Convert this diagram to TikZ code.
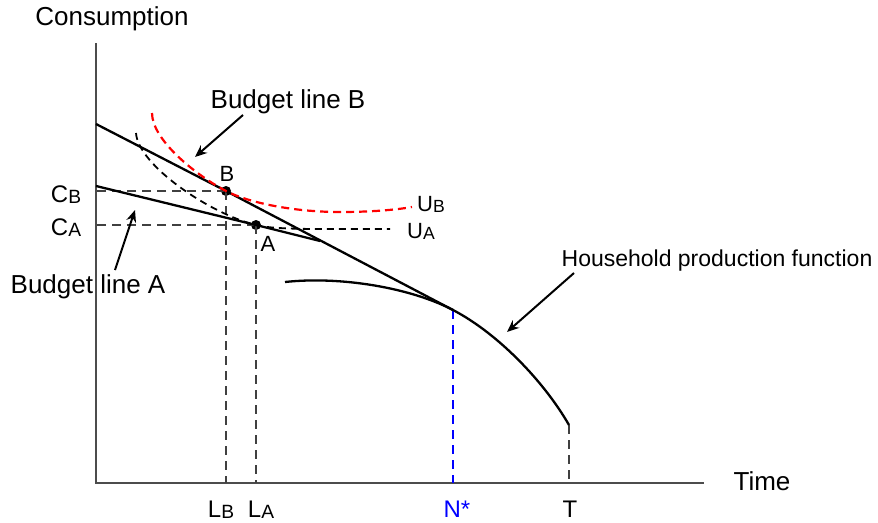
\documentclass[tikz,border=0pt]{standalone}
\usepackage{fontspec}
\setmainfont{Liberation Sans}
\usetikzlibrary{arrows.meta}
\newcommand{\subl}[2]{#1\raisebox{-0.1ex}{\fontsize{0.8em}{1em}\selectfont #2}}
\begin{document}
\begin{tikzpicture}[
    x=1pt, y=-1pt,
    hhAxis/.style={draw=black!70, line width=1.8pt},
    hhBudget/.style={line width=2.3pt},
    hhGuide/.style={black!75, line width=1.5pt, dash pattern=on 9pt off 6pt},
    hhIndiffA/.style={line width=1.8pt, dash pattern=on 7pt off 5pt},
    hhIndiffB/.style={red, line width=2.2pt, dash pattern=on 8pt off 5pt},
    hhPointer/.style={line width=2pt, -{Stealth[length=12pt,width=10pt]}},
    hhBig/.style={inner sep=0pt, anchor=base, font=\fontsize{26}{28}\selectfont},
    hhAxLbl/.style={inner sep=0pt, anchor=base, font=\fontsize{24}{26}\selectfont},
    hhPtLbl/.style={inner sep=0pt, anchor=base, font=\fontsize{22}{24}\selectfont},
    hhDot/.style={circle, fill, inner sep=0pt, minimum size=10pt}
]
    \useasboundingbox (0,0) rectangle (878,522);

    % axes
    \coordinate (O) at (96,483);
    \coordinate (yTop) at (96,43);
    \coordinate (xEnd) at (704,483);
    \draw[hhAxis] (yTop) -- (O) -- (xEnd);
    \node[hhBig] (yLbl) at (112,25) {Consumption};
    \node[hhBig] (xLbl) at (762,490) {Time};

    % tangency points
    \node[hhDot] (ptB) at (226,191) {};
    \node[hhDot] (ptA) at (256,225) {};
    \coordinate (nStar) at (453,310);
    \coordinate (tEnd) at (569,425);
    \node[hhPtLbl] (lblB) at (227,181) {B};
    \node[hhPtLbl] (lblA) at (268,251) {A};

    % guides to the axes
    \draw[hhGuide] (ptB.center) -- (ptB -| O);
    \draw[hhGuide] (ptA.center) -- (ptA -| O);
    \draw[hhGuide] (ptB.center) -- (ptB |- O);
    \draw[hhGuide] (ptA.center) -- (ptA |- O);
    \draw[hhGuide, blue] (nStar) -- (nStar |- O);
    \draw[hhGuide] (tEnd) -- (tEnd |- O);

    \node[hhAxLbl] (lblCB) at (66,202) {\subl{C}{B}};
    \node[hhAxLbl] (lblCA) at (66,235) {\subl{C}{A}};
    \node[hhAxLbl] (lblLB) at (221,517) {\subl{L}{B}};
    \node[hhAxLbl] (lblLA) at (261,517) {\subl{L}{A}};
    \node[hhAxLbl, blue] (lblN) at (457,517) {N*};
    \node[hhAxLbl] (lblT) at (570,517) {T};

    % budget lines
    \coordinate (budB0) at (96,124);
    \coordinate (budA0) at (96,186);
    \coordinate (budA1) at (320,241);
    \draw[hhBudget] (budB0) -- (ptB.center) -- (nStar);
    \draw[hhBudget] (budA0) -- (ptA.center) -- (budA1);

    % household production function
    \coordinate (hp0) at (285,282);
    \draw[hhBudget] (hp0) .. controls (340,276) and (410,287.5) .. (nStar)
        .. controls (498,333.5) and (544,381.5) .. (tEnd);

    % indifference curves
    \coordinate (ub0) at (152,113);
    \coordinate (ubMin) at (340,212);
    \coordinate (ub1) at (412,207);
    \draw[hhIndiffB] (ub0) .. controls (152,140) and (196,175.3) .. (ptB.center)
        .. controls (246,201.5) and (290,212) .. (ubMin)
        .. controls (370,212) and (395,210) .. (ub1);
    \coordinate (ua0) at (136,133);
    \coordinate (ua1) at (390,229);
    \draw[hhIndiffA] (ua0) .. controls (138,165) and (210,213.9) .. (ptA.center)
        .. controls (275,230) and (320,229) .. (ua1);
    \node[hhPtLbl] (lblUB) at (431,211) {\subl{U}{B}};
    \node[hhPtLbl] (lblUA) at (421,238) {\subl{U}{A}};

    % labels with pointers
    \node[hhBig] (lblBudB) at (288,108) {Budget line B};
    \coordinate (budBTail) at (243,115);
    \coordinate (budBTip) at (195,157);
    \draw[hhPointer] (budBTail) -- (budBTip);

    \node[hhBig] (lblBudA) at (88,293) {Budget line A};
    \coordinate (budATail) at (115,270);
    \coordinate (budATip) at (135,210);
    \draw[hhPointer] (budATail) -- (budATip);

    \node[hhPtLbl, font=\fontsize{23}{25}\selectfont] (lblHP) at (717,266) {Household production function};
    \coordinate (hpTail) at (574,273);
    \coordinate (hpTip) at (507,332);
    \draw[hhPointer] (hpTail) -- (hpTip);
\end{tikzpicture}
\end{document}
